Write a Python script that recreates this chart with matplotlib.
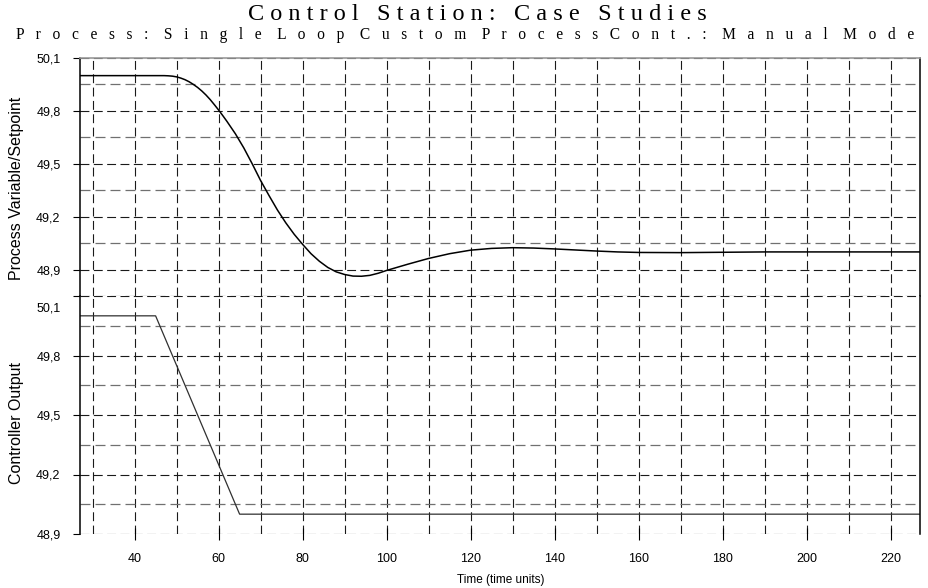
import matplotlib
matplotlib.use("Agg")
import matplotlib.pyplot as plt
import matplotlib.ticker as mticker
import matplotlib.transforms as mtrans
from matplotlib.font_manager import fontManager

# --- data ---
time_pv = [27, 45, 47, 48, 49, 50, 51, 52, 53, 54, 55, 56, 57, 58, 59, 60, 61, 62,
           63, 64, 66, 68, 70, 72, 74, 76, 78, 80, 82, 84, 86, 88, 90, 92, 94, 96,
           98, 100, 105, 110, 115, 120, 125, 130, 135, 140, 145, 150, 155, 160,
           170, 180, 190, 200, 227]
pv = [50.0, 50.0, 50.0, 49.999, 49.997, 49.993, 49.986, 49.977, 49.965, 49.95,
      49.933, 49.913, 49.89, 49.864, 49.835, 49.805, 49.773, 49.74, 49.705, 49.67,
      49.59, 49.5, 49.405, 49.32, 49.238, 49.165, 49.1, 49.043, 48.99, 48.947,
      48.912, 48.887, 48.872, 48.863, 48.862, 48.867, 48.879, 48.895, 48.93,
      48.963, 48.99, 49.01, 49.02, 49.024, 49.022, 49.017, 49.011, 49.005, 49.0,
      48.997, 48.996, 48.998, 49.0, 49.0, 49.0]

time_co = [27, 45, 65, 227]
co = [50.0, 50.0, 49.0, 49.0]

x_ticks = [40, 60, 80, 100, 120, 140, 160, 180, 200, 220]
y_ticks = [48.9, 49.2, 49.5, 49.8, 50.1]

title = "Control Station: Case Studies"
subtitle = "Process: Single Loop Custom ProcessCont.: Manual Mode"
ylabel_top = "Process Variable/Setpoint"
ylabel_bottom = "Controller Output"
xlabel = "Time (time units)"

names = {f.name for f in fontManager.ttflist}
NARROW = ["Liberation Sans Narrow", "Liberation Sans"] if "Liberation Sans Narrow" in names else ["Liberation Sans"]
SERIF = ["Liberation Serif", "DejaVu Serif"]


def spread(s, gap, word_gap):
    # the reference draws these headings letter-spaced
    return word_gap.join(gap.join(w) for w in s.split(" "))


def comma(v, pos):
    return f"{v:.1f}".replace(".", ",")


W, H = 929, 588
fig = plt.figure(figsize=(W / 100, H / 100), dpi=100)
fig.patch.set_facecolor("white")

ax1 = fig.add_axes([80 / W, 1 - 296 / H, 840 / W, 238 / H])
ax2 = fig.add_axes([80 / W, 1 - 534 / H, 840 / W, 238 / H])

dash = (0, (8, 4))
for ax, ylo in ((ax1, 48.75), (ax2, 48.9)):
    ax.set_xlim(27, 227)
    ax.set_ylim(ylo, 50.1)
    ax.xaxis.set_major_locator(mticker.FixedLocator(x_ticks))
    ax.xaxis.set_minor_locator(mticker.MultipleLocator(10))
    ax.yaxis.set_major_locator(mticker.FixedLocator(y_ticks))
    ax.yaxis.set_minor_locator(mticker.MultipleLocator(0.15))
    ax.yaxis.set_major_formatter(mticker.FuncFormatter(comma))
    ax.xaxis.grid(True, which="both", color="#1a1a1a", lw=0.8, linestyle=dash)
    ax.yaxis.grid(True, which="major", color="#1a1a1a", lw=0.8, linestyle=dash)
    ax.yaxis.grid(True, which="minor", color="#707070", lw=0.9, linestyle=dash)
    ax.set_axisbelow(True)
    for side in ("left", "right"):
        ax.spines[side].set_color("black")
        ax.spines[side].set_linewidth(1.1)
    ax.spines["bottom"].set_visible(False)
    ax.spines["top"].set_visible(False)
    ax.tick_params(axis="y", which="major", direction="out", length=5, width=0.8, pad=9)
    ax.tick_params(axis="y", which="minor", length=0)
    ax.tick_params(axis="x", which="minor", length=0)
    for lab in ax.get_yticklabels():
        lab.set_family(NARROW)
        lab.set_fontsize(9)

ax1.spines["top"].set_visible(True)
ax1.spines["top"].set_color("#9a9a9a")
ax1.spines["top"].set_linewidth(1.2)
ax1.tick_params(axis="x", which="major", length=0, labelbottom=False)
ax2.tick_params(axis="x", which="major", direction="inout", length=8, width=0.8, pad=10)
for lab in ax2.get_xticklabels():
    lab.set_family(NARROW)
    lab.set_fontsize(9)

ax1.plot(time_pv, pv, color="black", lw=1.1)
ax2.plot(time_co, co, color="#303030", lw=0.9)

# top label of the lower panel sits a little below its gridline in the reference
top_lab = ax2.get_yticklabels()[-1]
top_lab.set_transform(top_lab.get_transform() + mtrans.ScaledTranslation(0, -11 / 100, fig.dpi_scale_trans))

fig.text(477 / W, 1 - 15 / H, spread(title, " ", "   "), family=SERIF, fontsize=17.5,
         ha="center", va="center")
fig.text(465 / W, 1 - 35 / H, spread(subtitle, "   ", "    "), family=SERIF, fontsize=11.2,
         ha="center", va="center")
fig.text(17 / W, 1 - 188 / H, ylabel_top, family=["Liberation Sans"], fontsize=11.5,
         rotation=90, ha="center", va="center")
fig.text(17 / W, 1 - 423 / H, ylabel_bottom, family=["Liberation Sans"], fontsize=11.5,
         rotation=90, ha="center", va="center")
fig.text(501 / W, 1 - 580 / H, xlabel, family=NARROW, fontsize=8.5,
         ha="center", va="center")

fig.savefig("out.png", dpi=100)
